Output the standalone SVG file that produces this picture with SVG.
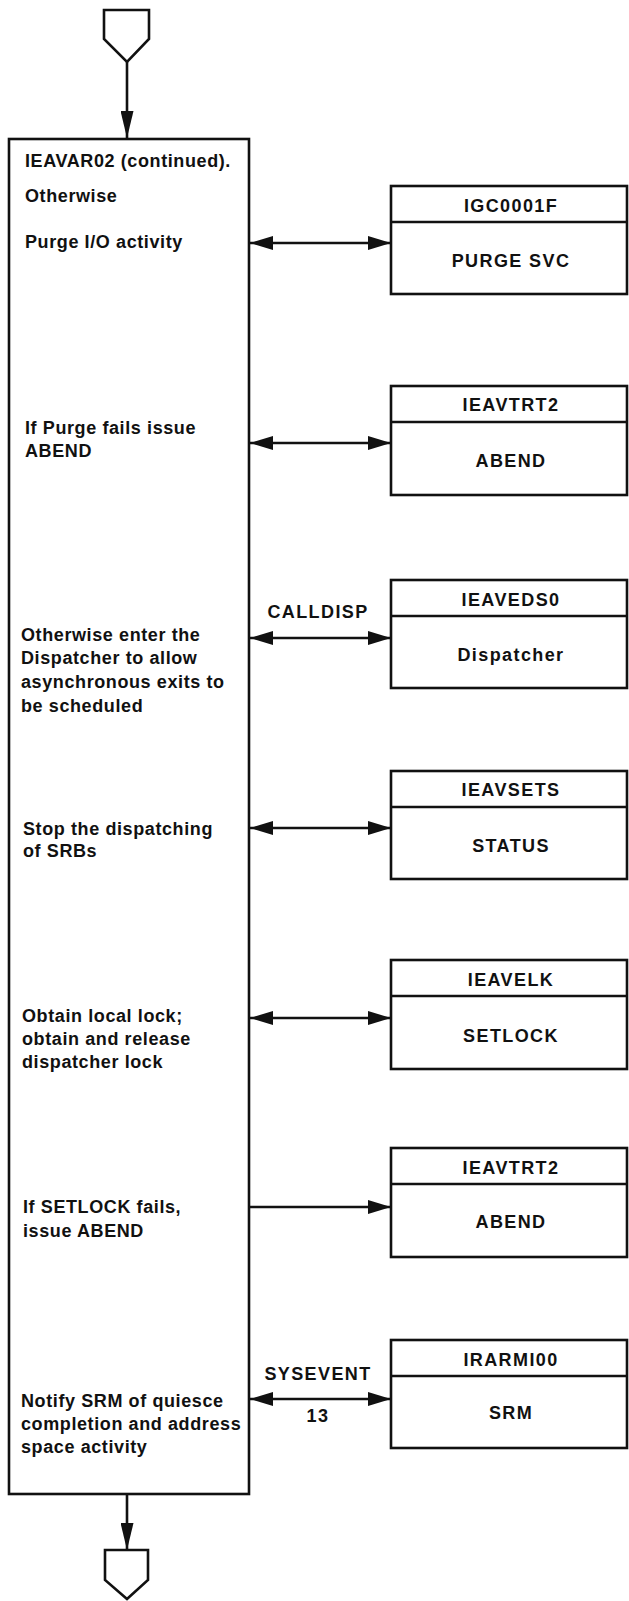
<svg xmlns="http://www.w3.org/2000/svg" width="629" height="1601" viewBox="0 0 629 1601">
  <style>
    .box { fill: #fff; stroke: #111; stroke-width: 2.6; }
    .div { stroke: #111; stroke-width: 2.6; }
    .con { fill: #fff; stroke: #111; stroke-width: 2.6; stroke-linejoin: miter; }
    .wire { fill: none; stroke: #111; stroke-width: 2.6; }
    .body { font-family: "Liberation Sans", Arial, sans-serif; font-weight: bold; font-size: 18px; letter-spacing: 0.6px; fill: #111; }
    .lbl { font-family: "Liberation Sans", Arial, sans-serif; font-weight: bold; font-size: 18px; letter-spacing: 1.4px; fill: #111; text-anchor: middle; }
  </style>
  <defs>
    <marker id="ah" viewBox="0 0 23 14" refX="23" refY="7" markerWidth="23" markerHeight="14" markerUnits="userSpaceOnUse" orient="auto-start-reverse">
      <path d="M0,0 L23,7 L0,14 Z" fill="#111"/>
    </marker>
    <marker id="av" viewBox="0 0 27 13" refX="27" refY="6.5" markerWidth="27" markerHeight="13" markerUnits="userSpaceOnUse" orient="auto">
      <path d="M0,0 L27,6.5 L0,13 Z" fill="#111"/>
    </marker>
  </defs>

  <!-- off-page connectors -->
  <g id="connector-in">
    <polygon class="con" points="104,10 149,10 149,39 127,62 104,39"/>
  </g>
  <g id="connector-out">
    <polygon class="con" points="105,1550 148,1550 148,1580 127,1599 105,1580"/>
  </g>

  <!-- main process box -->
  <g id="ieavar02">
    <rect class="box" x="9" y="139" width="240" height="1355"/>
    <text class="body" x="25" y="167">IEAVAR02 (continued).</text>
    <text class="body" x="25" y="202">Otherwise</text>
    <text class="body" x="25" y="248">Purge I/O activity</text>
    <text class="body" x="25" y="434">If Purge fails issue</text>
    <text class="body" x="25" y="457">ABEND</text>
    <text class="body" x="21" y="641">Otherwise enter the</text>
    <text class="body" x="21" y="664">Dispatcher to allow</text>
    <text class="body" x="21" y="688">asynchronous exits to</text>
    <text class="body" x="21" y="712">be scheduled</text>
    <text class="body" x="23" y="835">Stop the dispatching</text>
    <text class="body" x="23" y="857">of SRBs</text>
    <text class="body" x="22" y="1022">Obtain local lock;</text>
    <text class="body" x="22" y="1045">obtain and release</text>
    <text class="body" x="22" y="1068">dispatcher lock</text>
    <text class="body" x="23" y="1213">If SETLOCK fails,</text>
    <text class="body" x="23" y="1237">issue ABEND</text>
    <text class="body" x="21" y="1407">Notify SRM of quiesce</text>
    <text class="body" x="21" y="1430">completion and address</text>
    <text class="body" x="21" y="1453">space activity</text>
  </g>

  <!-- called modules: header band with module name, body with function -->
  <g id="igc0001f">
    <rect class="box" x="391" y="186" width="236" height="108"/>
    <line class="div" x1="391" y1="222" x2="627" y2="222"/>
    <text class="lbl" x="511" y="212">IGC0001F</text>
    <text class="lbl" x="511" y="267">PURGE SVC</text>
  </g>
  <g id="ieavtrt2-a">
    <rect class="box" x="391" y="386" width="236" height="109"/>
    <line class="div" x1="391" y1="422" x2="627" y2="422"/>
    <text class="lbl" x="511" y="411">IEAVTRT2</text>
    <text class="lbl" x="511" y="467">ABEND</text>
  </g>
  <g id="ieaveds0">
    <rect class="box" x="391" y="580" width="236" height="108"/>
    <line class="div" x1="391" y1="616" x2="627" y2="616"/>
    <text class="lbl" x="511" y="606">IEAVEDS0</text>
    <text class="lbl" x="511" y="661">Dispatcher</text>
  </g>
  <g id="ieavsets">
    <rect class="box" x="391" y="771" width="236" height="108"/>
    <line class="div" x1="391" y1="807" x2="627" y2="807"/>
    <text class="lbl" x="511" y="796">IEAVSETS</text>
    <text class="lbl" x="511" y="852">STATUS</text>
  </g>
  <g id="ieavelk">
    <rect class="box" x="391" y="960" width="236" height="109"/>
    <line class="div" x1="391" y1="996" x2="627" y2="996"/>
    <text class="lbl" x="511" y="986">IEAVELK</text>
    <text class="lbl" x="511" y="1042">SETLOCK</text>
  </g>
  <g id="ieavtrt2-b">
    <rect class="box" x="391" y="1148" width="236" height="109"/>
    <line class="div" x1="391" y1="1184" x2="627" y2="1184"/>
    <text class="lbl" x="511" y="1174">IEAVTRT2</text>
    <text class="lbl" x="511" y="1228">ABEND</text>
  </g>
  <g id="irarmi00">
    <rect class="box" x="391" y="1340" width="236" height="108"/>
    <line class="div" x1="391" y1="1376" x2="627" y2="1376"/>
    <text class="lbl" x="511" y="1366">IRARMI00</text>
    <text class="lbl" x="511" y="1419">SRM</text>
  </g>

  <!-- connectors -->
  <g id="connectors">
    <line class="wire" x1="127" y1="62" x2="127" y2="138" marker-end="url(#av)"/>
    <line class="wire" x1="127" y1="1495" x2="127" y2="1550" marker-end="url(#av)"/>
    <line class="wire" x1="250" y1="243" x2="391" y2="243" marker-start="url(#ah)" marker-end="url(#ah)"/>
    <line class="wire" x1="250" y1="443" x2="391" y2="443" marker-start="url(#ah)" marker-end="url(#ah)"/>
    <line class="wire" x1="250" y1="638" x2="391" y2="638" marker-start="url(#ah)" marker-end="url(#ah)"/>
    <line class="wire" x1="250" y1="828" x2="391" y2="828" marker-start="url(#ah)" marker-end="url(#ah)"/>
    <line class="wire" x1="250" y1="1018" x2="391" y2="1018" marker-start="url(#ah)" marker-end="url(#ah)"/>
    <line class="wire" x1="249" y1="1207" x2="391" y2="1207" marker-end="url(#ah)"/>
    <line class="wire" x1="250" y1="1399" x2="391" y2="1399" marker-start="url(#ah)" marker-end="url(#ah)"/>
    <text class="lbl" x="318" y="618">CALLDISP</text>
    <text class="lbl" x="318" y="1380">SYSEVENT</text>
    <text class="lbl" x="318" y="1422">13</text>
  </g>
</svg>
